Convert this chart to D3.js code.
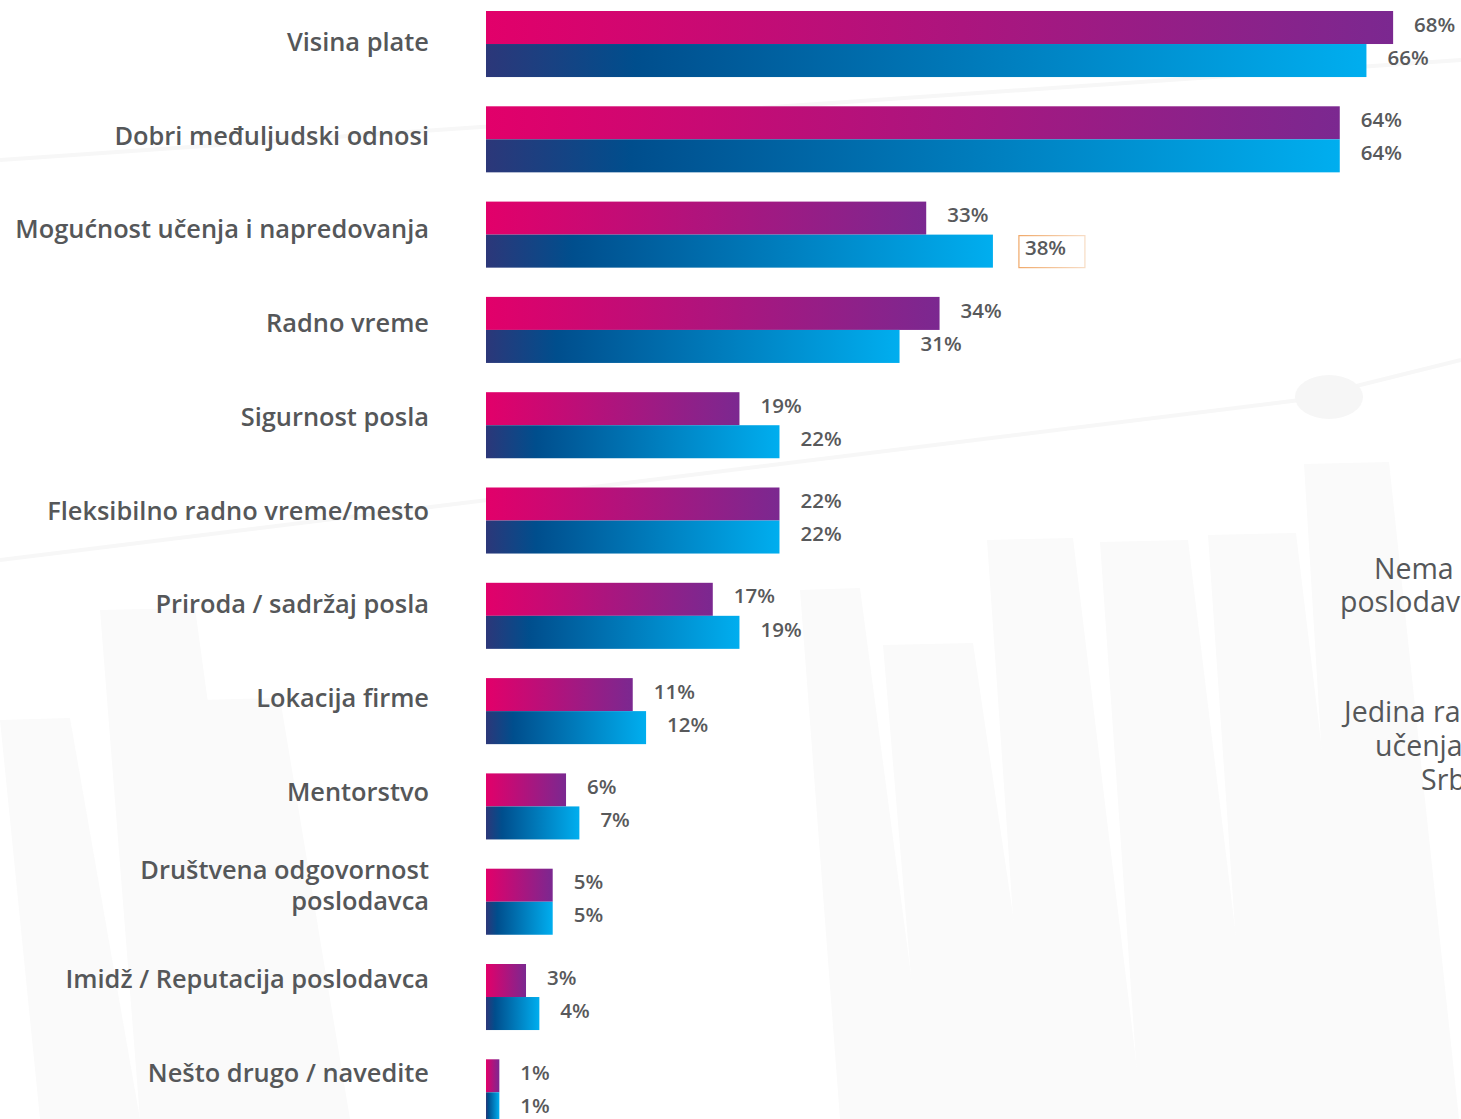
<!DOCTYPE html>
<meta charset="utf-8">
<script src="https://d3js.org/d3.v7.min.js"></script>
<style>
  body { margin: 0; background: #fff; }
  text { font-family: "Open Sans", sans-serif; }
</style>
<div id="chart"></div>
<script>
// categories (top to bottom), label lines
var categories = [
  ["Visina plate"],
  ["Dobri međuljudski odnosi"],
  ["Mogućnost učenja i napredovanja"],
  ["Radno vreme"],
  ["Sigurnost posla"],
  ["Fleksibilno radno vreme/mesto"],
  ["Priroda / sadržaj posla"],
  ["Lokacija firme"],
  ["Mentorstvo"],
  ["Društvena odgovornost", "poslodavca"],
  ["Imidž / Reputacija poslodavca"],
  ["Nešto drugo / navedite"]
];
// first series (pink) and second series (blue), in %
var seriesPink = [68, 64, 33, 34, 19, 22, 17, 11, 6, 5, 3, 1];
var seriesBlue = [66, 64, 38, 31, 22, 22, 19, 12, 7, 5, 4, 1];
// cut-off side text
var sideText = [["Nema", "poslodav"], ["Jedina ra", "učenja", "Srb"]];

var W = 1461, H = 1119;
var keys = categories.map(function(d) { return d.join(" "); });

var svg = d3.select("#chart").append("svg")
  .attr("width", W).attr("height", H);

var defs = svg.append("defs");
var gp = defs.append("linearGradient").attr("id", "gPink");
gp.append("stop").attr("offset", "0%").attr("stop-color", "#e2006a");
gp.append("stop").attr("offset", "100%").attr("stop-color", "#7b2890");
var gb = defs.append("linearGradient").attr("id", "gBlue");
gb.append("stop").attr("offset", "0%").attr("stop-color", "#2c3779");
gb.append("stop").attr("offset", "17%").attr("stop-color", "#004e8d");
gb.append("stop").attr("offset", "100%").attr("stop-color", "#00aeef");
var gbox = defs.append("linearGradient").attr("id", "gBox");
gbox.append("stop").attr("offset", "0%").attr("stop-color", "#f0a868");
gbox.append("stop").attr("offset", "100%").attr("stop-color", "#f7dcc4");

// faint watermark in background
var wm = svg.append("g").attr("fill", "#fafafa").attr("stroke", "none");
[[800, 590, 60], [883, 645, 90], [987, 540, 86], [1100, 542, 88], [1208, 535, 88], [1304, 464, 85], [100, 610, 95], [0, 720, 70], [200, 700, 80]]
  .forEach(function(b) {
    var x0 = b[0], y0 = b[1], w = b[2];
    wm.append("path").attr("d", "M" + x0 + "," + y0 + "L" + (x0 + w) + "," + (y0 - 2) +
      "L" + (x0 + w + 70) + "," + H + "L" + (x0 + 40) + "," + H + "Z");
  });
wm.append("path").attr("fill", "none").attr("stroke", "#f7f7f7").attr("stroke-width", 4)
  .attr("d", "M0,560 L1300,400 L1461,360");
wm.append("path").attr("fill", "none").attr("stroke", "#f7f7f7").attr("stroke-width", 4)
  .attr("d", "M0,160 L1461,60");
wm.append("ellipse").attr("cx", 1329).attr("cy", 397).attr("rx", 34).attr("ry", 22).attr("fill", "#f6f6f6");

var x = d3.scaleLinear().domain([0, 100]).range([486, 486 + 1334]);

var y = d3.scaleBand().domain(keys)
  .range([11, 11 + 95.3 * (keys.length - 0.307)])
  .paddingInner(0.307).paddingOuter(0);

var ySub = d3.scaleBand().domain(["pink", "blue"]).range([0, y.bandwidth()]);

var labelY = d3.scalePoint().domain(keys).range([42, 1073]);

var rows = keys.map(function(k, i) {
  return { key: k, lines: categories[i], pink: seriesPink[i], blue: seriesBlue[i], boxed: i == 2 };
});

// category labels
var lab = svg.append("g").attr("fill", "#555759")
  .attr("font-size", 25.4).attr("font-weight", 600).attr("text-anchor", "end");
rows.forEach(function(r) {
  var n = r.lines.length;
  r.lines.forEach(function(t, j) {
    lab.append("text")
      .attr("x", 429)
      .attr("y", labelY(r.key) + (j - (n - 1) / 2) * 31)
      .attr("dy", "0.35em")
      .text(t);
  });
});

// bars
var groups = svg.append("g").selectAll("g").data(rows).enter().append("g")
  .attr("transform", function(d) { return "translate(0," + y(d.key) + ")"; });

["pink", "blue"].forEach(function(s) {
  groups.append("rect")
    .attr("x", x(0))
    .attr("y", ySub(s))
    .attr("height", ySub.bandwidth())
    .attr("width", function(d) { return x(d[s]) - x(0); })
    .attr("fill", s == "pink" ? "url(#gPink)" : "url(#gBlue)");
  groups.append("text")
    .attr("x", function(d) { return x(d[s]) + (s == "blue" && d.boxed ? 32 : 21); })
    .attr("y", ySub(s) + ySub.bandwidth() / 2 - 3)
    .attr("dy", "0.35em")
    .attr("font-size", 20.5)
    .attr("font-weight", 600)
    .attr("fill", "#58595b")
    .text(function(d) { return d[s] + "%"; });
});

// the highlighted box around 38%
var hi = rows[2];
svg.append("rect")
  .attr("x", x(hi.blue) + 26).attr("y", y(hi.key) + ySub("blue") + 1)
  .attr("width", 66).attr("height", 32)
  .attr("fill", "none").attr("stroke", "url(#gBox)").attr("stroke-width", 1.2);

// side text, cut by the right edge
var side = svg.append("g").attr("fill", "#555759").attr("font-size", 28.5);
var sidePos = [[[1374, 579], [1340, 612]], [[1344, 722], [1375, 756], [1421, 790]]];
sideText.forEach(function(block, i) {
  block.forEach(function(t, j) {
    side.append("text").attr("x", sidePos[i][j][0]).attr("y", sidePos[i][j][1]).text(t);
  });
});
</script>
